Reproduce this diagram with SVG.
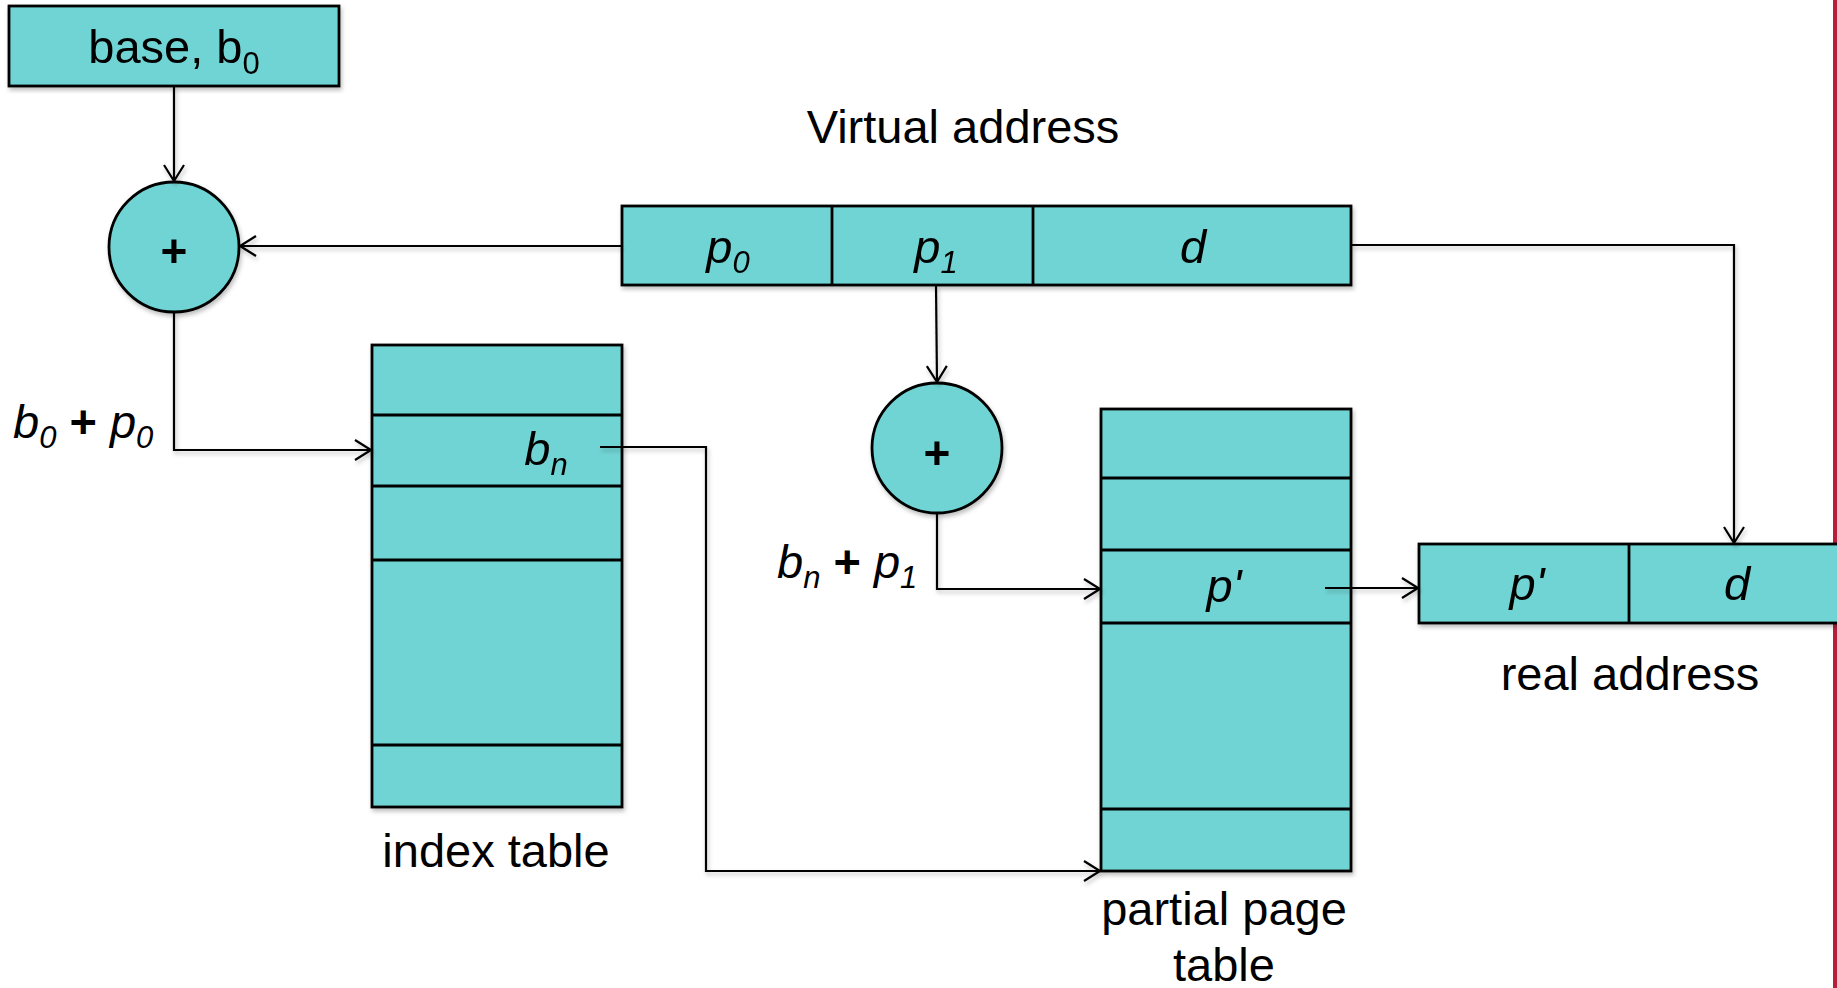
<svg xmlns="http://www.w3.org/2000/svg" width="1837" height="988" viewBox="0 0 1837 988">
<style>
.box{fill:#71D4D4;stroke:#000;stroke-width:2.8}
.ln{fill:none;stroke:#000;stroke-width:2.8}
.con{fill:none;stroke:#000;stroke-width:2.2}
.t{font-family:"Liberation Sans",Arial,sans-serif;font-size:47px;fill:#000}
.i{font-style:italic}
.sub{font-size:31px}
.op{font-style:normal;font-weight:bold}
.plus{font-family:"Liberation Sans",Arial,sans-serif;font-size:46px;font-weight:bold;fill:#000}
</style>
<defs>
<marker id="arr" markerUnits="userSpaceOnUse" markerWidth="20" markerHeight="24" refX="17" refY="11" orient="auto">
<path d="M1,1 L17,11 L1,21" fill="none" stroke="#000" stroke-width="2.2"/>
</marker>
<filter id="sh" x="-5%" y="-5%" width="110%" height="115%">
<feDropShadow dx="1.5" dy="3" stdDeviation="2" flood-color="#000" flood-opacity="0.25"/>
</filter>
</defs>
<rect x="1833" y="0" width="4" height="988" fill="#B41F3A"/>
<g id="base" filter="url(#sh)">
<rect class="box" x="9" y="6" width="330" height="80"/>
<text class="t" x="174" y="63" text-anchor="middle">base, b<tspan class="sub" dy="11">0</tspan></text>
</g>
<text id="virtual-label" class="t" x="963" y="143" text-anchor="middle">Virtual address</text>
<g id="virtual-address" filter="url(#sh)">
<rect class="box" x="622" y="206" width="729" height="79"/>
<line class="ln" x1="832" y1="206" x2="832" y2="285"/>
<line class="ln" x1="1033" y1="206" x2="1033" y2="285"/>
<text class="t i" x="728" y="263" text-anchor="middle">p<tspan class="sub" dy="10">0</tspan></text>
<text class="t i" x="936" y="263" text-anchor="middle">p<tspan class="sub" dy="10">1</tspan></text>
<text class="t i" x="1193" y="263" text-anchor="middle">d</text>
</g>
<g id="adder1" filter="url(#sh)">
<circle class="box" cx="174" cy="247" r="65"/>
<text class="plus" x="174" y="267" text-anchor="middle">+</text>
</g>
<g id="adder2" filter="url(#sh)">
<circle class="box" cx="937" cy="448" r="65"/>
<text class="plus" x="937" y="469" text-anchor="middle">+</text>
</g>
<text id="label-b0p0" class="t i" x="13" y="438">b<tspan class="sub" dy="10">0</tspan><tspan class="op" dy="-10"> + </tspan><tspan>p</tspan><tspan class="sub" dy="10">0</tspan></text>
<text id="label-bnp1" class="t i" x="777" y="578">b<tspan class="sub" dy="10">n</tspan><tspan class="op" dy="-10"> + </tspan><tspan>p</tspan><tspan class="sub" dy="10">1</tspan></text>
<g id="index-table" filter="url(#sh)">
<rect class="box" x="372" y="345" width="250" height="462"/>
<line class="ln" x1="372" y1="415" x2="622" y2="415"/>
<line class="ln" x1="372" y1="486" x2="622" y2="486"/>
<line class="ln" x1="372" y1="560" x2="622" y2="560"/>
<line class="ln" x1="372" y1="745" x2="622" y2="745"/>
<text class="t i" x="546" y="465" text-anchor="middle">b<tspan class="sub" dy="10">n</tspan></text>
</g>
<text id="index-label" class="t" x="496" y="867" text-anchor="middle">index table</text>
<g id="partial-page-table" filter="url(#sh)">
<rect class="box" x="1101" y="409" width="250" height="462"/>
<line class="ln" x1="1101" y1="478" x2="1351" y2="478"/>
<line class="ln" x1="1101" y1="550" x2="1351" y2="550"/>
<line class="ln" x1="1101" y1="623" x2="1351" y2="623"/>
<line class="ln" x1="1101" y1="809" x2="1351" y2="809"/>
<text class="t i" x="1224" y="602" text-anchor="middle">p'</text>
</g>
<text id="partial-label" class="t" text-anchor="middle"><tspan x="1224" y="925">partial page</tspan><tspan x="1224" y="981">table</tspan></text>
<g id="real-address" filter="url(#sh)">
<rect class="box" x="1419" y="544" width="440" height="79"/>
<line class="ln" x1="1629" y1="544" x2="1629" y2="623"/>
<text class="t i" x="1527" y="600" text-anchor="middle">p'</text>
<text class="t i" x="1737" y="600" text-anchor="middle">d</text>
</g>
<text id="real-label" class="t" x="1630" y="690" text-anchor="middle">real address</text>
<g id="connectors" filter="url(#sh)">
<path class="con" d="M174,86 L174,181" marker-end="url(#arr)"/>
<path class="con" d="M622,246 L240,246" marker-end="url(#arr)"/>
<path class="con" d="M174,312 L174,450 L371,450" marker-end="url(#arr)"/>
<path class="con" d="M936,285 L937,382" marker-end="url(#arr)"/>
<path class="con" d="M937,513 L937,589 L1100,589" marker-end="url(#arr)"/>
<path class="con" d="M600,447 L706,447 L706,871 L1100,871" marker-end="url(#arr)"/>
<path class="con" d="M1325,588 L1418,588" marker-end="url(#arr)"/>
<path class="con" d="M1351,245 L1734,245 L1734,543" marker-end="url(#arr)"/>
</g>
</svg>
